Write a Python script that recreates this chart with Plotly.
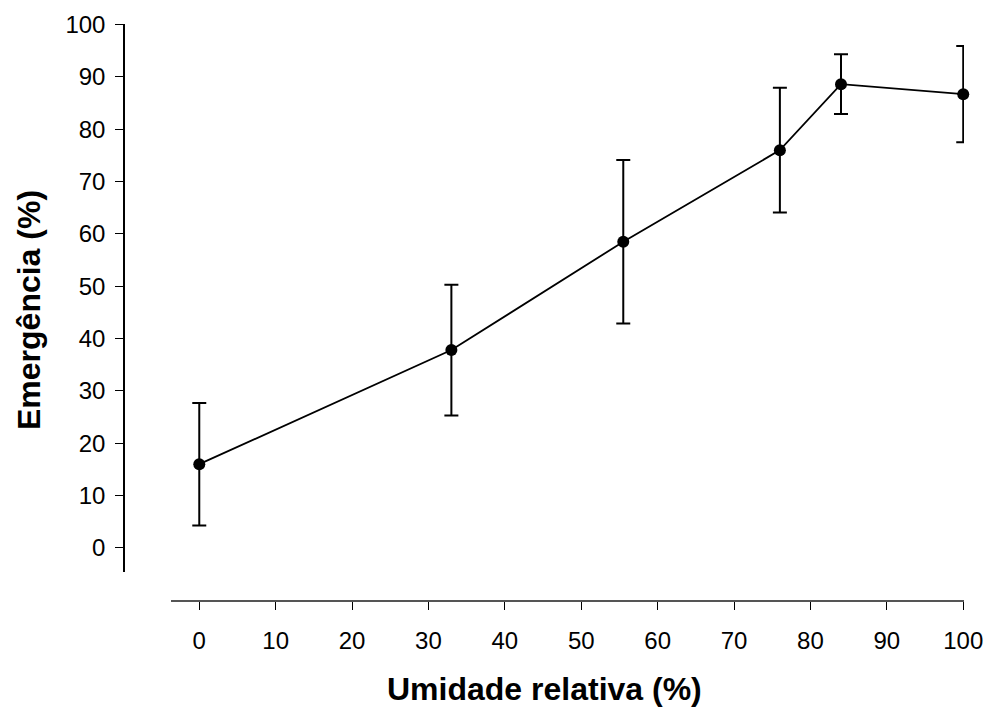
import plotly.graph_objects as go

# Relative humidity (%) and seedling emergence (%) with standard deviations
umidade = [0, 33, 55.5, 76, 84, 100]
emergencia = [16.0, 37.8, 58.5, 76.0, 88.6, 86.7]
desvio = [11.7, 12.5, 15.6, 11.9, 5.7, 9.2]

x_ticks = list(range(0, 101, 10))
y_ticks = list(range(0, 101, 10))

FONT = "Liberation Sans, Arial, sans-serif"

fig = go.Figure()
fig.add_trace(go.Scatter(
    x=umidade,
    y=emergencia,
    mode="lines+markers",
    line=dict(color="black", width=1.8),
    marker=dict(color="black", size=12),
    error_y=dict(type="data", array=desvio, visible=True,
                 color="black", thickness=2, width=7),
    cliponaxis=False,
    showlegend=False,
))

W, H = 988, 709
L, R, T, B = 124, 24, 24, 108
pw, ph = W - L - R, H - T - B

fig.update_layout(
    width=W, height=H,
    margin=dict(l=L, r=R, t=T, b=B, pad=0, autoexpand=False),
    paper_bgcolor="white",
    plot_bgcolor="white",
    font=dict(family=FONT, size=24, color="black"),
    xaxis=dict(
        range=[-3.7, 100.1],
        domain=[47 / pw, 1],
        anchor="free", position=0,
        tickvals=x_ticks,
        ticks="outside", ticklen=8, tickwidth=1, tickcolor="black",
        showline=True, linecolor="#555", linewidth=1.5,
        showgrid=False, zeroline=False,
        automargin=False,
        ticklabelstandoff=10,
    ),
    yaxis=dict(
        range=[-4.6, 100.1],
        domain=[29 / ph, 1],
        anchor="free", position=0,
        tickvals=y_ticks,
        ticks="outside", ticklen=8, tickwidth=1, tickcolor="black",
        showline=True, linecolor="black", linewidth=1.5,
        showgrid=False, zeroline=False,
        automargin=False,
        ticklabelstandoff=5,
    ),
    annotations=[
        dict(text="<b>Umidade relativa (%)</b>", xref="paper", yref="paper",
             x=0.5, y=-(689 - 601) / ph, xanchor="center", yanchor="middle",
             showarrow=False, font=dict(family=FONT, size=32, color="black")),
        dict(text="<b>Emergência (%)</b>", xref="paper", yref="paper",
             x=-(124 - 29) / pw, y=1 - (310 - 24) / ph,
             xanchor="center", yanchor="middle", textangle=-90,
             showarrow=False, font=dict(family=FONT, size=32, color="black")),
    ],
)

fig.write_html("out.html")
